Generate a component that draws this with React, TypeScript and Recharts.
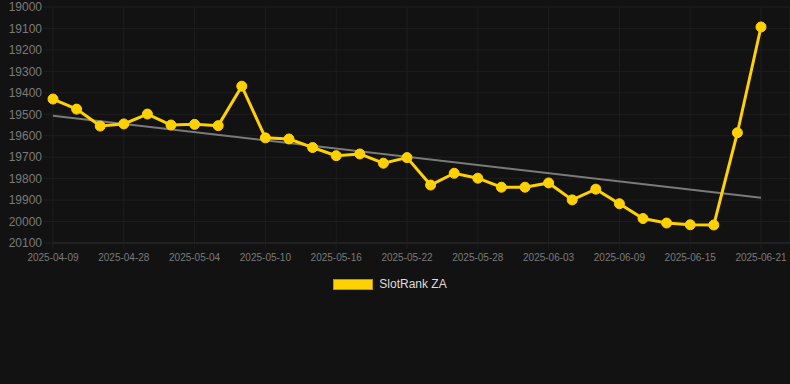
import {
  CartesianGrid,
  Legend,
  Line,
  LineChart,
  ReferenceLine,
  XAxis,
  YAxis,
} from "recharts";

const DATES = [
  "2025-04-09", "2025-04-24", "2025-04-26", "2025-04-28", "2025-04-30",
  "2025-05-02", "2025-05-04", "2025-05-06", "2025-05-08", "2025-05-10",
  "2025-05-12", "2025-05-14", "2025-05-16", "2025-05-18", "2025-05-20",
  "2025-05-22", "2025-05-24", "2025-05-26", "2025-05-28", "2025-05-30",
  "2025-06-01", "2025-06-03", "2025-06-05", "2025-06-07", "2025-06-09",
  "2025-06-11", "2025-06-13", "2025-06-15", "2025-06-17", "2025-06-19",
  "2025-06-21",
];

const RANKS = [
  19429, 19476, 19555, 19545, 19499, 19550, 19547, 19553, 19369, 19610,
  19615, 19655, 19693, 19685, 19728, 19702, 19830, 19775, 19798, 19840,
  19840, 19820, 19899, 19849, 19917, 19986, 20007, 20015, 20016, 19586,
  19093,
];

const X_TICKS = [
  "2025-04-09", "2025-04-28", "2025-05-04", "2025-05-10", "2025-05-16",
  "2025-05-22", "2025-05-28", "2025-06-03", "2025-06-09", "2025-06-15",
  "2025-06-21",
];

const Y_TICKS = [
  19000, 19100, 19200, 19300, 19400, 19500, 19600, 19700, 19800, 19900,
  20000, 20100,
];

// trend line end points (first and last date)
const TREND = [19507, 19889];

const SERIES_NAME = "SlotRank ZA";
const YELLOW = "#FFD100";
const GRID = "#1e1e1e";
const FONT = '"Liberation Sans", Arial, Helvetica, sans-serif';

const data = DATES.map((date, i) => ({ date, rank: RANKS[i] }));

function LegendContent() {
  return (
    <div
      style={{
        display: "flex",
        justifyContent: "center",
        alignItems: "center",
        paddingRight: 10,
        fontFamily: FONT,
        fontSize: 12,
        color: "#dddddd",
      }}
    >
      <span
        style={{
          display: "inline-block",
          width: 40,
          height: 11,
          background: YELLOW,
          border: "1px solid #b89600",
          boxSizing: "border-box",
          marginRight: 6,
        }}
      />
      <span>{SERIES_NAME}</span>
    </div>
  );
}

export default function App() {
  return (
    <div
      style={{
        position: "fixed",
        left: 0,
        top: 0,
        width: 790,
        height: 384,
        background: "#121212",
      }}
    >
      <LineChart
        width={790}
        height={384}
        data={data}
        margin={{ top: 7, right: 0, bottom: 111, left: 0 }}
      >
        <CartesianGrid stroke={GRID} strokeWidth={1} />
        <XAxis
          dataKey="date"
          ticks={X_TICKS}
          interval={0}
          padding={{ left: 0, right: 29 }}
          height={30}
          tickSize={6}
          tickMargin={5}
          axisLine={{ stroke: "#2a2a2a" }}
          tickLine={{ stroke: GRID }}
          tick={{ fill: "#7a7a7a", fontSize: 10, fontFamily: FONT }}
        />
        <YAxis
          reversed
          domain={[19000, 20100]}
          ticks={Y_TICKS}
          interval={0}
          width={53}
          tickSize={9}
          tickMargin={2}
          axisLine={false}
          tickLine={{ stroke: GRID }}
          tick={{ fill: "#7a7a7a", fontSize: 12, fontFamily: FONT }}
        />
        <ReferenceLine
          segment={[
            { x: DATES[0], y: TREND[0] },
            { x: DATES[DATES.length - 1], y: TREND[1] },
          ]}
          stroke="#7a7a7a"
          strokeWidth={2}
        />
        <Line
          type="linear"
          dataKey="rank"
          name={SERIES_NAME}
          stroke={YELLOW}
          strokeWidth={3}
          dot={{ r: 5, fill: YELLOW, stroke: YELLOW, strokeWidth: 1 }}
          activeDot={false}
          isAnimationActive={false}
        />
        <Legend
          layout="horizontal"
          verticalAlign="middle"
          align="center"
          wrapperStyle={{ top: 277, left: 0, width: 790, height: 16 }}
          content={<LegendContent />}
        />
      </LineChart>
    </div>
  );
}
